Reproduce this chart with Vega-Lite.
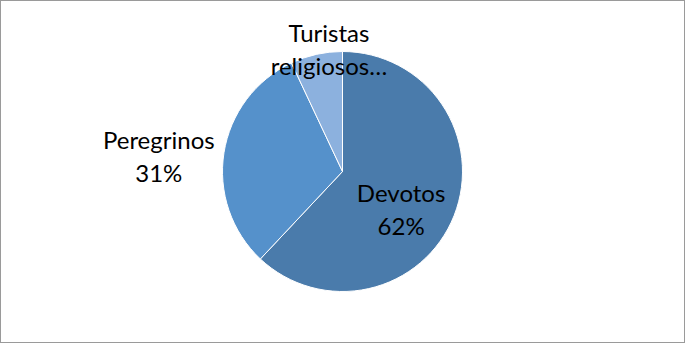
{
  "$schema": "https://vega.github.io/schema/vega-lite/v6.json",
  "width": 685,
  "height": 343,
  "autosize": {"type": "none"},
  "padding": 0,
  "background": "white",
  "config": {"view": {"stroke": null}},
  "data": {"values": [
    {"cat": "Devotos", "v": 62, "label": "Devotos\n62%"},
    {"cat": "Peregrinos", "v": 31, "label": "Peregrinos\n31%"},
    {"cat": "Turistas religiosos", "v": 7, "label": "Turistas\nreligiosos…"}
  ]},
  "layer": [
    {
      "mark": {"type": "rect", "fill": null, "stroke": "#9a9a9a", "strokeWidth": 2},
      "encoding": {}
    },
    {
      "mark": {"type": "arc", "outerRadius": 120, "stroke": "white", "strokeWidth": 1},
      "encoding": {
        "theta": {"field": "v", "type": "quantitative", "stack": true},
        "order": {"field": "v", "sort": "descending"},
        "color": {"field": "cat", "type": "nominal", "legend": null,
          "scale": {"domain": ["Devotos", "Peregrinos", "Turistas religiosos"], "range": ["#4a7bab", "#5591cb", "#8cb1de"]}}
      }
    },
    {
      "mark": {"type": "text", "font": "Lato", "fontSize": 24, "lineBreak": "\n", "lineHeight": 33, "baseline": "middle", "align": "center", "color": "#000000", "radius": 63},
      "encoding": {
        "theta": {"field": "v", "type": "quantitative", "stack": true},
        "order": {"field": "v", "sort": "descending"},
        "text": {"condition": {"test": "datum.cat === 'Devotos'", "field": "label"}, "value": ""}
      }
    },
    {
      "mark": {"type": "text", "font": "Lato", "fontSize": 24, "lineBreak": "\n", "lineHeight": 33, "baseline": "middle", "align": "center", "color": "#000000", "radius": 186},
      "encoding": {
        "theta": {"field": "v", "type": "quantitative", "stack": true},
        "order": {"field": "v", "sort": "descending"},
        "text": {"condition": {"test": "datum.cat === 'Peregrinos'", "field": "label"}, "value": ""}
      }
    },
    {
      "mark": {"type": "text", "font": "Lato", "fontSize": 24, "lineBreak": "\n", "lineHeight": 33, "baseline": "middle", "align": "center", "color": "#000000", "radius": 140, "dx": 17},
      "encoding": {
        "theta": {"field": "v", "type": "quantitative", "stack": true},
        "order": {"field": "v", "sort": "descending"},
        "text": {"condition": {"test": "datum.cat === 'Turistas religiosos'", "field": "label"}, "value": ""}
      }
    }
  ]
}
